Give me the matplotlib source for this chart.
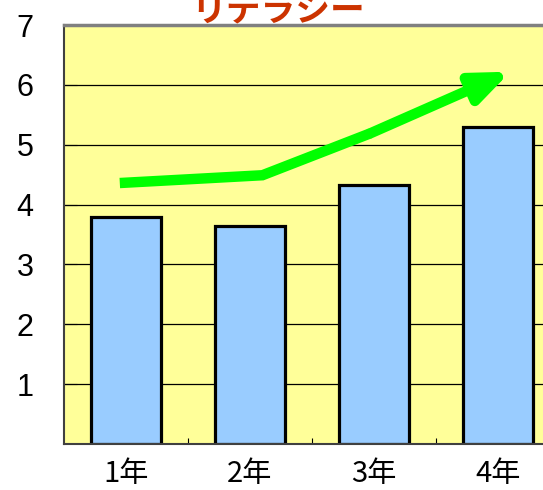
import matplotlib
matplotlib.use("Agg")
import matplotlib.pyplot as plt

# データ
categories = ["1年", "2年", "3年", "4年"]
values = [3.79, 3.64, 4.32, 5.29]
y_ticks = [1, 2, 3, 4, 5, 6, 7]
title = "リテラシー"

# 矢印（傾向線）の折れ点
trend_x = [-0.05, 1.1, 1.97]
trend_y = [4.36, 4.49, 5.19]
arrow_tip = (3.1, 6.22)

jp_font = ["Noto Sans CJK JP", "DejaVu Sans"]
num_font = ["Liberation Sans Narrow", "Liberation Sans", "DejaVu Sans"]

fig = plt.figure(figsize=(5.43, 4.90), dpi=100)
ax = fig.add_axes([64 / 543, 1 - 444 / 490, 496 / 543, 419 / 490])
ax.set_facecolor("#FFFF99")

x = list(range(len(categories)))
ax.yaxis.grid(True, color="black", lw=0.9, zorder=0)
ax.set_axisbelow(True)
ax.bar(x, values, width=0.565, color="#99CCFF", edgecolor="black", lw=2.3, zorder=2)

# 傾向矢印
ax.plot(trend_x, trend_y, color="#00FF00", lw=7.5, solid_capstyle="butt",
        solid_joinstyle="miter", zorder=3)
ax.annotate("", xy=arrow_tip, xytext=(trend_x[-1], trend_y[-1]),
            arrowprops=dict(arrowstyle="-|>,head_length=1.1,head_width=0.45",
                            color="#00FF00", lw=7.5, shrinkA=0, shrinkB=0,
                            mutation_scale=20), zorder=3)

ax.set_xlim(-0.5, 3.5)
ax.set_ylim(0, 7)
ax.set_yticks(y_ticks)
ax.set_yticklabels([str(t) for t in y_ticks], family=num_font, fontsize=22)
ax.set_xticks([0.5, 1.5, 2.5])
ax.set_xticklabels([])
ax.tick_params(axis="x", direction="in", length=4, width=0.8)
ax.tick_params(axis="y", direction="in", length=9, width=0.8, pad=22)

for xi, c in zip(x, categories):
    ax.text(xi, -0.25, c, ha="center", va="top", fontsize=21, family=jp_font)

ax.spines["top"].set_color("#808080")
ax.spines["top"].set_linewidth(2.5)
ax.spines["left"].set_color("#404040")
ax.spines["left"].set_linewidth(1.5)
ax.spines["bottom"].set_color("#404040")
ax.spines["bottom"].set_linewidth(1.5)
ax.spines["right"].set_visible(False)

fig.text(278 / 543, 1 - 21 / 490, title, ha="center", va="baseline",
         fontsize=25, fontweight="bold", color="#CC3300", family=jp_font)

fig.savefig("out.png", dpi=100)
